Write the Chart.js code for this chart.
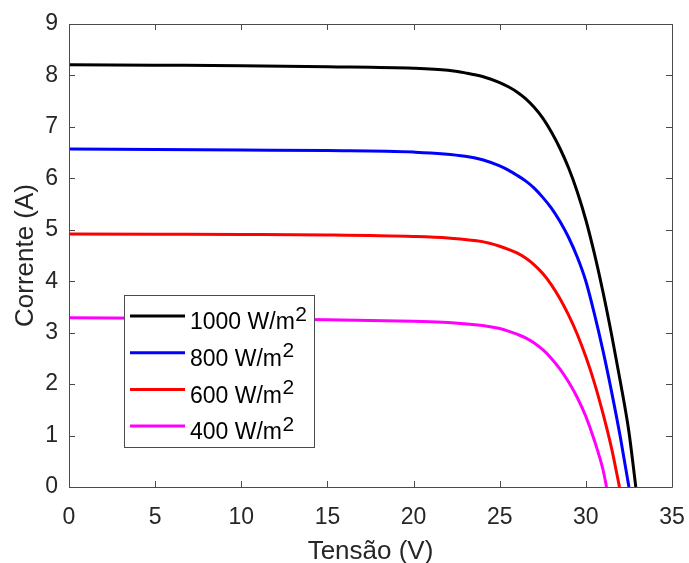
<!DOCTYPE html>
<html><head><meta charset="utf-8">
<script src="https://cdn.jsdelivr.net/npm/chart.js@4/dist/chart.umd.min.js"></script>
<style>html,body{margin:0;padding:0;background:#fff}#wrap{width:689px;height:563px}</style>
</head><body><div id="wrap"><canvas id="c" width="689" height="563"></canvas></div>
<script>
// ---- data ----
const xTickValues = [0, 5, 10, 15, 20, 25, 30, 35];
const yTickValues = [0, 1, 2, 3, 4, 5, 6, 7, 8, 9];
const xTitle = 'Tensão (V)';
const yTitle = 'Corrente (A)';
const seriesLabels = ['1000 W/m²', '800 W/m²', '600 W/m²', '400 W/m²'];
const seriesColors = ['#000000', '#0000ff', '#ff0000', '#ff00ff'];

const voltage1000 = [0, 5, 10, 15, 20, 22, 23, 24, 25, 25.5, 26, 26.5, 27, 27.5, 28, 28.5, 29, 29.5, 30, 30.5, 31, 31.5, 32, 32.5, 32.9];
const current1000 = [8.21, 8.20, 8.19, 8.17, 8.14, 8.10, 8.05, 7.98, 7.86, 7.78, 7.68, 7.55, 7.38, 7.17, 6.90, 6.58, 6.20, 5.74, 5.19, 4.53, 3.78, 2.95, 2.05, 1.07, 0];

const voltage800 = [0, 5, 10, 15, 20, 23, 24, 25, 25.5, 26, 26.5, 27, 27.5, 28, 28.5, 29, 29.5, 30, 30.5, 31, 31.5, 32, 32.5];
const current800 = [6.57, 6.56, 6.55, 6.54, 6.51, 6.43, 6.36, 6.24, 6.16, 6.06, 5.95, 5.81, 5.63, 5.42, 5.16, 4.85, 4.47, 4.00, 3.36, 2.64, 1.84, 0.97, 0];

const voltage600 = [0, 5, 10, 15, 20, 22, 24, 24.5, 25, 25.5, 26, 26.5, 27, 27.5, 28, 28.5, 29, 29.5, 30, 30.5, 31, 31.5, 31.95];
const current600 = [4.92, 4.915, 4.91, 4.90, 4.87, 4.84, 4.77, 4.73, 4.68, 4.62, 4.55, 4.45, 4.32, 4.15, 3.93, 3.66, 3.34, 2.97, 2.53, 2.02, 1.42, 0.74, 0];

const voltage400 = [0, 5, 10, 15, 20, 22, 24, 25, 25.5, 26, 26.5, 27, 27.5, 28, 28.5, 29, 29.5, 30, 30.5, 31, 31.2];
const current400 = [3.29, 3.28, 3.27, 3.25, 3.22, 3.20, 3.14, 3.08, 3.03, 2.97, 2.90, 2.80, 2.67, 2.50, 2.29, 2.04, 1.74, 1.37, 0.90, 0.33, 0];

const voltages = [voltage1000, voltage800, voltage600, voltage400];
const currents = [current1000, current800, current600, current400];

const FONT = '"Liberation Sans", Arial, Helvetica, sans-serif';
const AXIS_COLOR = '#4a4a4a';
const TEXT_COLOR = '#262626';

const datasets = seriesLabels.map((lab, i) => ({
  label: lab,
  data: voltages[i].map((v, k) => ({ x: v, y: currents[i][k] })),
  borderColor: seriesColors[i],
  backgroundColor: seriesColors[i],
  borderWidth: 3,
  pointRadius: 0,
  fill: false,
  cubicInterpolationMode: 'monotone'
}));

const framePlugin = {
  id: 'frame',
  afterDatasetsDraw(chart) {
    const ctx = chart.ctx;
    const a = chart.chartArea;
    const xs = chart.scales.x, ys = chart.scales.y;
    ctx.save();
    ctx.strokeStyle = AXIS_COLOR;
    ctx.lineWidth = 1;
    ctx.beginPath();
    ctx.rect(Math.round(a.left) + 0.5, Math.round(a.top) + 0.5, Math.round(a.right - a.left), Math.round(a.bottom - a.top));
    ctx.stroke();
    const tl = 6;
    ctx.beginPath();
    xs.ticks.forEach(t => {
      const px = Math.round(xs.getPixelForValue(t.value)) + 0.5;
      ctx.moveTo(px, a.bottom); ctx.lineTo(px, a.bottom - tl);
      ctx.moveTo(px, a.top); ctx.lineTo(px, a.top + tl);
    });
    ys.ticks.forEach(t => {
      const py = Math.round(ys.getPixelForValue(t.value)) + 0.5;
      ctx.moveTo(a.left, py); ctx.lineTo(a.left + tl, py);
      ctx.moveTo(a.right, py); ctx.lineTo(a.right - tl, py);
    });
    ctx.stroke();

    // axis titles
    ctx.fillStyle = TEXT_COLOR;
    ctx.font = '26px ' + FONT;
    ctx.textAlign = 'center';
    ctx.textBaseline = 'alphabetic';
    ctx.fillText(xTitle, (a.left + a.right) / 2, 559);
    ctx.save();
    ctx.translate(33, (a.top + a.bottom) / 2);
    ctx.rotate(-Math.PI / 2);
    ctx.fillText(yTitle, 0, 0);
    ctx.restore();

    // legend box
    const bx = 124.5, by = 295.5, bw = 190, bh = 152;
    ctx.fillStyle = '#ffffff';
    ctx.fillRect(bx, by, bw, bh);
    ctx.strokeStyle = AXIS_COLOR;
    ctx.lineWidth = 1;
    ctx.strokeRect(bx, by, bw, bh);
    const rowH = 36.7;
    chart.data.datasets.forEach((ds, i) => {
      const base = 329.3 + i * rowH;
      const ly = base - 13.3;
      ctx.strokeStyle = ds.borderColor;
      ctx.lineWidth = 3;
      ctx.beginPath();
      ctx.moveTo(130, ly); ctx.lineTo(185, ly);
      ctx.stroke();
      const txt = ds.label;
      const main = txt.replace('²', '');
      ctx.fillStyle = '#000000';
      ctx.textAlign = 'left';
      ctx.font = '23px ' + FONT;
      ctx.fillText(main, 190, base);
      const w = ctx.measureText(main).width;
      if (txt.indexOf('²') >= 0) {
        ctx.font = '21px ' + FONT;
        ctx.fillText('2', 190 + w + 0.5, base - 8.6);
      }
    });
    ctx.restore();
  }
};

new Chart(document.getElementById('c'), {
  type: 'line',
  data: { datasets },
  options: {
    responsive: false,
    animation: false,
    layout: { padding: { top: 24, right: 17, left: 0, bottom: 0 } },
    plugins: { legend: { display: false }, tooltip: { enabled: false } },
    scales: {
      x: {
        type: 'linear', min: 0, max: 35,
        afterBuildTicks: s => { s.ticks = xTickValues.map(v => ({ value: v })); },
        afterFit: s => { s.height = 76; s.paddingLeft = 0; s.paddingRight = 0; },
        grid: { display: false, drawTicks: false },
        border: { display: false },
        ticks: { color: TEXT_COLOR, font: { size: 23, family: FONT }, padding: 17, maxRotation: 0, autoSkip: false }
      },
      y: {
        type: 'linear', min: 0, max: 9,
        afterBuildTicks: s => { s.ticks = yTickValues.map(v => ({ value: v })); },
        afterFit: s => { s.width = 69; s.paddingTop = 0; s.paddingBottom = 0; },
        grid: { display: false, drawTicks: false },
        border: { display: false },
        ticks: { color: TEXT_COLOR, font: { size: 23, family: FONT }, padding: 11, autoSkip: false }
      }
    }
  },
  plugins: [framePlugin]
});
</script></body></html>
